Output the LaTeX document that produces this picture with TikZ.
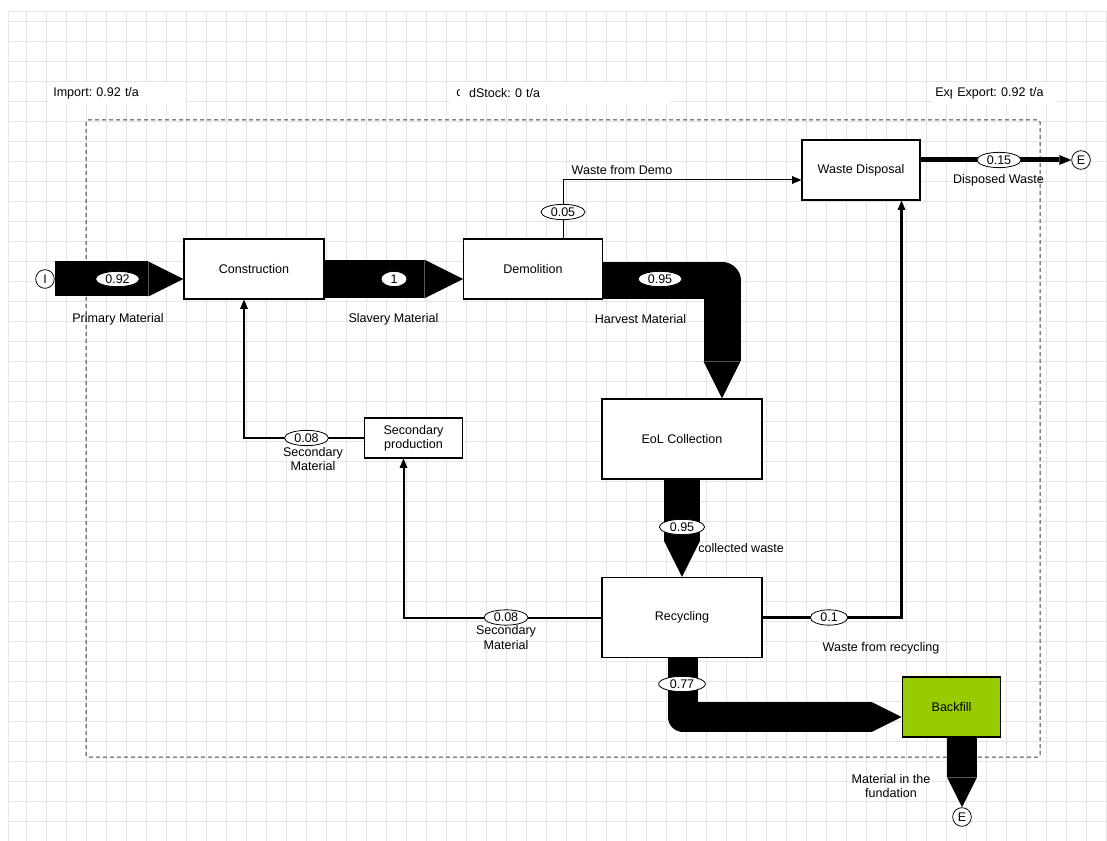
\documentclass[tikz,border=0pt]{standalone}
\usepackage{fontspec}
\setmainfont{Liberation Sans}
\usepackage{tikz}
\usetikzlibrary{shapes.geometric, arrows.meta, positioning}
\definecolor{backgreen}{HTML}{99CC00}
\frenchspacing

\begin{document}
\begin{tikzpicture}[x=0.75pt, y=-0.75pt,
    every node/.style={font=\fontsize{9.4}{10.6}\selectfont},
    proc/.style={draw, fill=white, line width=0.9pt, inner sep=0pt},
    val/.style={ellipse, draw, fill=white, line width=0.6pt, inner sep=0pt, minimum width=33pt, minimum height=11.5pt},
    term/.style={circle, draw, fill=white, line width=0.6pt, inner sep=0pt, minimum size=14pt},
    fatflow/.style={line width=#1, line join=round, -{Triangle[width=#1, length=#1, line width=0pt]}},
    link/.style={line width=#1, -{Triangle[length=7pt, width=6pt, line width=0pt]}},
    topbox/.style={fill=white, anchor=west, minimum height=16.5pt, inner ysep=0pt, align=left},
    gridline/.style={draw=gray!20, line width=0.6pt},
    sysbound/.style={draw=black!75, line width=0.75pt, dash pattern=on 3pt off 2.25pt, rounded corners=1.5pt}]
    \useasboundingbox (0,0) rectangle (1107,841);
    \fill[white] (0,0) rectangle (1107,841);

    % Grid
    \foreach \gx in {8,26,46,...,1106} \draw[gridline] (\gx,11) -- (\gx,841);
    \foreach \gy in {11,21,41,...,841} \draw[gridline] (8,\gy) -- (1107,\gy);

    % System boundary and totals
    \draw[sysbound] (86,120) rectangle (1040,757);
    \node (limp) [topbox, text width=96pt, inner xsep=3.75pt] at (48,93) {Import: 0.92 t/a};
    \node (lstk0) [topbox, text width=156pt, inner xsep=4.5pt] at (450,93) {c};
    \node (lstk) [topbox, text width=143.9pt, inner xsep=7pt] at (459.5,93) {dStock: 0 t/a};
    \node (lexp0) [topbox, text width=84pt, inner xsep=2.25pt] at (932,93) {Export: 0.92 t/a};
    \node (lexp) [topbox, text width=72pt, inner xsep=3.75pt] at (952,93) {Export: 0.92 t/a};

    % Nodes
    \node (cons) [proc, minimum width=105pt, minimum height=45pt] at (254,269) {Construction};
    \node (demo) [proc, minimum width=104pt, minimum height=45pt] at (533,269) {Demolition};
    \node (wdis) [proc, minimum width=88.5pt, minimum height=45pt] at (861,170) {Waste Disposal};
    \node (eol) [proc, minimum width=120pt, minimum height=60pt] at (682,439) {EoL Collection};
    \node (rec) [proc, minimum width=120pt, minimum height=60pt] at (682,617.5) {Recycling};
    \node (sprod) [proc, minimum width=74pt, minimum height=30pt, align=center] at (413.5,438) {Secondary\\production};
    \node (back) [proc, fill=backgreen, minimum width=74pt, minimum height=45pt] at (951.5,707) {Backfill};

    \node (imp) [term] at (45,279) {I};
    \node (exd) [term] at (1081,160) {E};
    \node (exf) [term] at (962,817) {E};

    \coordinate (harv) at (722,280.5);
    \coordinate (bfill) at (683,717);
    \coordinate (wdemo) at (563,180);
    \coordinate (wrec) at (901.5,617.5);
    \coordinate (srec) at (403.5,617.5);
    \coordinate (scons) at (244,438);

    % Fat flows
    \draw[fatflow=26.25pt] (imp.east) -- (cons.west |- imp);
    \draw[fatflow=29pt] (cons.east |- imp) -- (demo.west |- imp);
    \draw[fatflow=27.75pt] (demo.east |- harv) -- (harv) -- (harv |- eol.north);
    \draw[fatflow=27pt] (eol.south) -- (rec.north);
    \draw[fatflow=22.5pt] (rec.south -| bfill) -- (bfill) -- (back.west |- bfill);
    \draw[fatflow=22.5pt] (back.south -| exf) -- (exf.north);

    % Lines
    \draw[link=0.75pt] (demo.north -| wdemo) -- (wdemo) -- (wdis.west |- wdemo);
    \draw[line width=3.75pt, -{Triangle[length=9pt, width=7.5pt, line width=0pt]}] (wdis.east |- exd) -- (exd.west);
    \draw[link=2.25pt] (rec.east) -- (wrec) -- (wdis.south -| wrec);
    \draw[link=1.5pt] (rec.west) -- (srec) -- (sprod.south -| srec);
    \draw[link=1.5pt] (sprod.west) -- (scons) -- (cons.south -| scons);

    % Values
    \node (v092) [val] at (117.5,279) {0.92};
    \node (v1) [val, minimum width=19.5pt] at (394,279) {1};
    \node (v095a) [val] at (660,279) {0.95};
    \node (v005) [val] at (563,212) {0.05};
    \node (v015) [val] at (999,160) {0.15};
    \node (v008a) [val] at (306.5,438) {0.08};
    \node (v008b) [val] at (506,617.5) {0.08};
    \node (v01) [val, minimum width=28pt] at (829,617.5) {0.1};
    \node (v095b) [val, minimum width=34pt] at (682,527) {0.95};
    \node (v077) [val, minimum width=35pt] at (682,684) {0.77};

    % Labels
    \node (lprim) at (118,319.5) {Primary Material};
    \node (lslav) at (393.5,319.5) {Slavery Material};
    \node (lharv) at (640.5,319.5) {Harvest Material};
    \node (lsec1) [align=center] at (313,459) {Secondary\\Material};
    \node (lsec2) [align=center] at (506,637.5) {Secondary\\Material};
    \node (lcoll) [anchor=west, inner sep=0pt] at (698,548) {collected waste};
    \node (lwrec) at (881,648) {Waste from recycling};
    \node (lfund) [align=center] at (891,786) {Material in the\\fundation};
    \node (lwdem) at (622,170) {Waste from Demo};
    \node (ldisp) at (998.5,180) {Disposed Waste};
\end{tikzpicture}
\end{document}
